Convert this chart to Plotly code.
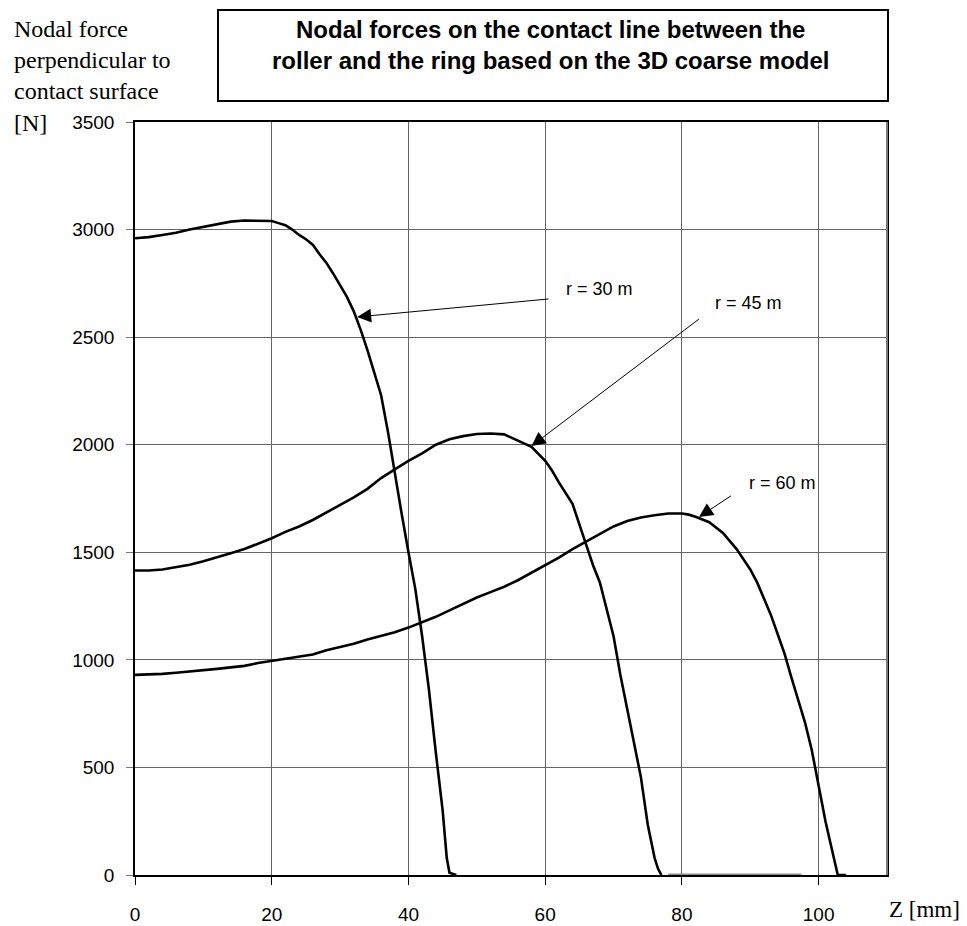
import plotly.graph_objects as go

# ---- data ----
r30_x = [0, 2, 4, 6, 8, 10, 12, 14, 16, 18, 20, 21, 22, 23, 24, 25, 26, 27, 28, 29, 30,
         31, 32, 33, 34, 35, 36, 37, 38, 39, 40, 41, 42, 43, 44, 45, 45.6, 46, 47]
r30_y = [2960, 2965, 2975, 2985, 3000, 3012, 3025, 3037, 3042, 3042, 3040, 3030, 3020, 3000,
         2975, 2955, 2930, 2885, 2845, 2795, 2740, 2687, 2620, 2535, 2440, 2340, 2230, 2060,
         1860, 1680, 1500, 1330, 1110, 860, 570, 300, 80, 10, 0]

r45_x = [0, 2, 4, 6, 8, 10, 12, 14, 16, 18, 20, 22, 24, 26, 28, 30, 32, 34, 36, 38, 40, 42,
         44, 46, 48, 50, 52, 54, 56, 58, 60, 61, 62, 63, 64, 65, 66, 67, 68, 69, 70, 71, 72,
         73, 74, 75, 76, 76.5, 77]
r45_y = [1415, 1415, 1420, 1430, 1442, 1458, 1475, 1495, 1515, 1540, 1565, 1595, 1620, 1650,
         1685, 1720, 1755, 1795, 1845, 1885, 1925, 1960, 2000, 2025, 2040, 2050, 2052, 2048,
         2020, 1990, 1925, 1880, 1825, 1775, 1725, 1630, 1530, 1440, 1360, 1240, 1110, 930,
         775, 625, 455, 235, 80, 30, 0]

r60_x = [0, 2, 4, 6, 8, 10, 12, 14, 16, 18, 20, 22, 24, 26, 28, 30, 32, 34, 36, 38, 40, 42,
         44, 46, 48, 50, 52, 54, 56, 58, 60, 62, 64, 66, 68, 70, 72, 74, 76, 78, 80, 81, 82,
         84, 86, 88, 90, 91, 92, 93, 94, 95, 96, 97, 98, 99, 100, 101, 102, 102.8, 104]
r60_y = [930, 932, 935, 940, 945, 950, 958, 965, 972, 985, 995, 1005, 1012, 1025, 1045, 1060,
         1075, 1095, 1110, 1128, 1150, 1175, 1200, 1230, 1260, 1290, 1315, 1340, 1370, 1405,
         1440, 1475, 1515, 1550, 1585, 1620, 1645, 1662, 1672, 1680, 1680, 1675, 1665, 1640,
         1590, 1515, 1420, 1360, 1285, 1210, 1120, 1030, 920, 820, 710, 580, 420, 250, 110,
         0, 0]

zero_x = [78, 97.5]
zero_y = [0, 0]

x_ticks = [0, 20, 40, 60, 80, 100]
y_ticks = [0, 500, 1000, 1500, 2000, 2500, 3000, 3500]

labels = ["r = 30 m", "r = 45 m", "r = 60 m"]
label_pos = [(62.7, 2724), (84.5, 2659), (89.5, 1822)]
arrow_tip = [(32.5, 2594), (58.0, 1994), (82.5, 1664)]
arrow_tail = [(60.7, 2678), (82.7, 2589), (87.4, 1767)]

# ---- figure ----
fig = go.Figure()
line_style = dict(color="black", width=2.6)
for xs, ys in [(r30_x, r30_y), (r45_x, r45_y), (r60_x, r60_y)]:
    fig.add_trace(go.Scatter(x=xs, y=ys, mode="lines", line=line_style,
                             showlegend=False, hoverinfo="skip"))
fig.add_trace(go.Scatter(x=zero_x, y=zero_y, mode="lines",
                         line=dict(color="#8c8c8c", width=3), showlegend=False))

annotations = []
for (tx, ty), (hx, hy) in zip(arrow_tip, arrow_tail):
    annotations.append(dict(x=tx, y=ty, ax=hx, ay=hy, xref="x", yref="y",
                            axref="x", ayref="y", text="", showarrow=True,
                            arrowhead=2, arrowsize=2.8, arrowwidth=1, arrowcolor="black"))
for txt, (lx, ly) in zip(labels, label_pos):
    annotations.append(dict(x=lx, y=ly, xref="x", yref="y", text=txt, showarrow=False,
                            xanchor="left", yanchor="middle",
                            font=dict(family="Liberation Sans, Arial", size=18, color="black")))

# y axis title (left, multi-line)
annotations.append(dict(x=(12 - 135) / 752, y=(875 - 76) / 753, xref="paper", yref="paper",
                        text="Nodal force<br>perpendicular to<br>contact surface<br>[N]",
                        showarrow=False, xanchor="left", yanchor="middle", align="left",
                        font=dict(family="Liberation Serif, Times New Roman", size=24, color="black")))
# x axis title
annotations.append(dict(x=(962 - 135) / 752, y=(875 - 909) / 753, xref="paper", yref="paper",
                        text="Z [mm]",
                        showarrow=False, xanchor="right", yanchor="middle",
                        font=dict(family="Liberation Serif, Times New Roman", size=23, color="black")))
# chart title
annotations.append(dict(x=(550 - 135) / 752, y=(875 - 45) / 753, xref="paper", yref="paper",
                        text="<b>Nodal forces on the contact line between the<br>roller and the ring based on the 3D coarse model</b>",
                        showarrow=False, xanchor="center", yanchor="middle", align="center",
                        font=dict(family="Liberation Sans, Arial", size=24, color="black")))

shapes = [
    dict(type="rect", xref="paper", yref="paper",
         x0=(218 - 135) / 752, x1=(888 - 135) / 752,
         y0=(875 - 101) / 753, y1=(875 - 10) / 753,
         line=dict(color="black", width=2), fillcolor="rgba(0,0,0,0)"),
    dict(type="line", xref="paper", yref="paper", x0=1, x1=1, y0=0, y1=1,
         line=dict(color="#7a7a7a", width=2)),
]

# the page body adds an 8px offset; figure fills the rest of the window
fig.update_layout(
    width=959, height=918,
    margin=dict(l=127, r=80, t=114, b=51),
    paper_bgcolor="white", plot_bgcolor="white",
    annotations=annotations, shapes=shapes,
    showlegend=False,
)
fig.update_xaxes(range=[0, 110], tickvals=x_ticks, ticktext=[str(v) for v in x_ticks],
                 automargin=False,
                 showgrid=True, gridcolor="#666666", gridwidth=1,
                 showline=True, linecolor="black", linewidth=2, mirror=True,
                 ticks="outside", ticklen=8, tickcolor="black", tickwidth=1,
                 ticklabelstandoff=13,
                 tickfont=dict(family="Liberation Sans, Arial", size=19, color="black"),
                 zeroline=False)
fig.update_yaxes(range=[0, 3500], tickvals=y_ticks, ticktext=[str(v) for v in y_ticks],
                 automargin=False,
                 showgrid=True, gridcolor="#666666", gridwidth=1,
                 showline=True, linecolor="black", linewidth=1.5, mirror=True,
                 ticks="outside", ticklen=7, tickcolor="#7a7a7a", tickwidth=1,
                 ticklabelstandoff=8,
                 tickfont=dict(family="Liberation Sans, Arial", size=19, color="black"),
                 zeroline=False)

fig.write_html("out.html")
